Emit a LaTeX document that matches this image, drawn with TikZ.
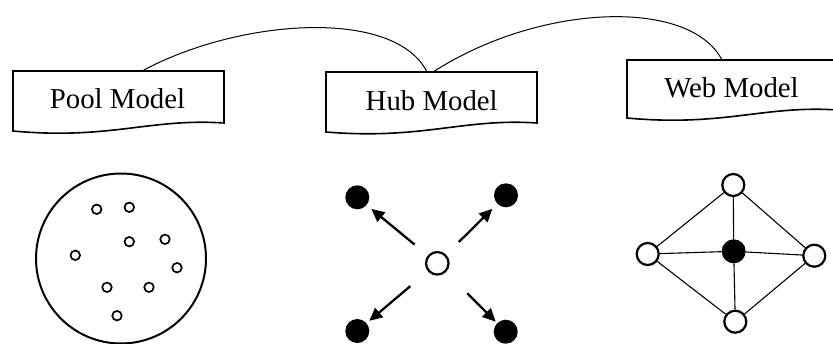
\documentclass[tikz,border=0pt]{standalone}
\usepackage{fontspec}
\setmainfont{Liberation Serif}
\usetikzlibrary{arrows.meta}
\begin{document}
\begin{tikzpicture}[x=1pt,y=-1pt,
  boxline/.style={line width=1.6pt, line join=miter},
  boxtext/.style={font=\fontsize{28.8}{34}\selectfont, anchor=base, inner sep=0pt},
  link/.style={line width=1pt},
  small/.style={circle, draw, line width=1.7pt, minimum size=9.5pt, inner sep=0pt},
  blackdot/.style={circle, fill=black, minimum size=24pt, inner sep=0pt},
  opendot/.style={circle, draw, fill=white, line width=2.2pt, minimum size=22pt, inner sep=0pt},
  hubarrow/.style={line width=2.3pt, -{Triangle[length=13pt,width=12pt]}},
  webline/.style={line width=1.1pt}]
\clip (0,0) rectangle (833,343);
\useasboundingbox (0,0) rectangle (833,343);

% document-shaped boxes
\draw[boxline] (13,71) -- (224,71) -- (224,123) .. controls (150,118) and (110,140) .. (13,131) -- cycle;
\draw[boxline] (326,72) -- (537,72) -- (537,123) .. controls (463,118) and (423,140) .. (326,132) -- cycle;
\draw[boxline] (627,60) -- (838,60) -- (838,110) .. controls (764,105) and (724,127) .. (627,118) -- cycle;

\node[boxtext] (pool) at (117.5,108.5) {Pool Model};
\node[boxtext] (hub) at (431.7,110) {Hub Model};
\node[boxtext] (web) at (731.5,97.7) {Web Model};

\coordinate (poolTop) at (142,71);
\coordinate (hubTopL) at (427,72);
\coordinate (hubTopR) at (433,72);
\coordinate (webTop) at (722,60);

\draw[link] (poolTop) .. controls (240,18) and (395,8) .. (hubTopL);
\draw[link] (hubTopR) .. controls (540,3) and (690,-2) .. (webTop);

% pool model
\node[circle, draw, line width=2pt, minimum size=170pt, inner sep=0pt] (poolc) at (121,258.5) {};
\node[small] (p1) at (96.7,209.3) {};
\node[small] (p2) at (129.3,207.3) {};
\node[small] (p3) at (129.3,241.7) {};
\node[small] (p4) at (165,239.3) {};
\node[small] (p5) at (75.3,255.3) {};
\node[small] (p6) at (177,267.7) {};
\node[small] (p7) at (107,287.3) {};
\node[small] (p8) at (149,287.3) {};
\node[small] (p9) at (117,315.7) {};

% hub model
\node[opendot, minimum size=22.5pt] (hc) at (437.3,263.3) {};
\node[blackdot] (h1) at (357.3,197.3) {};
\node[blackdot] (h2) at (506,195.3) {};
\node[blackdot] (h3) at (357.3,331) {};
\node[blackdot] (h4) at (505.7,331.7) {};
\draw[hubarrow, shorten <=17pt, shorten >=6pt] (hc) -- (h1);
\draw[hubarrow, shorten <=18pt, shorten >=7pt] (hc) -- (h2);
\draw[hubarrow, shorten <=23pt, shorten >=3.5pt] (hc) -- (h3);
\draw[hubarrow, shorten <=30pt, shorten >=2pt] (hc) -- (h4);

% web model
\node[opendot] (wt) at (733.3,185) {};
\node[opendot] (wl) at (647.7,254) {};
\node[opendot] (wr) at (814.3,255.7) {};
\node[opendot] (wb) at (735.3,321.7) {};
\node[blackdot] (wc) at (733.7,251.3) {};
\draw[webline] (wt) -- (wl);
\draw[webline] (wt) -- (wr);
\draw[webline] (wb) -- (wl);
\draw[webline] (wb) -- (wr);
\draw[webline] (wc) -- (wt);
\draw[webline] (wc) -- (wb);
\draw[webline] (wc) -- (wl);
\draw[webline] (wc) -- (wr);
\end{tikzpicture}
\end{document}
